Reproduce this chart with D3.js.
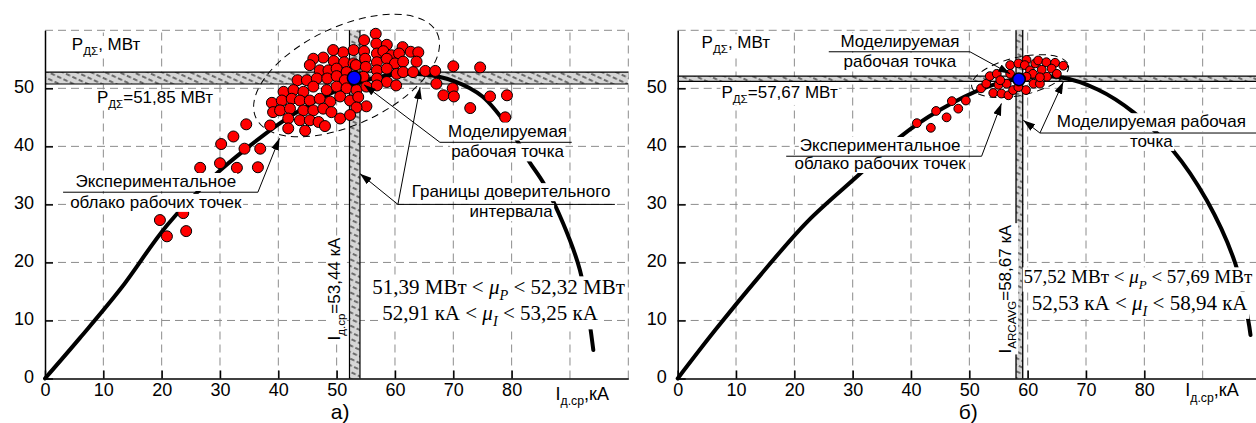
<!DOCTYPE html>
<html><head><meta charset="utf-8">
<script src="https://cdn.jsdelivr.net/npm/d3@7"></script>
<style>body{margin:0;background:#fff} svg{display:block}</style>
</head><body><svg id="c" width="1256" height="423"></svg>
<script>
// ---------------- DATA ----------------
const xTickValues = [0,10,20,30,40,50,60,70,80];
const yTickValues = [0,10,20,30,40,50];
const xGrid = [10,20,30,40,50,60,70,80,90,100];
const yGrid = [10,20,30,40,50,60];

// panel a): model P(I) characteristic [I kA, P MW]
const curveA = [[0,0],[6,7],[13,15.5],[21,26.5],[29.4,35.3],[35,40],[40,43.8],[45,47],[50,49.6],[55,51.4],[60,52.4],[65,52.4],[70,51.3],[75,48.6],[80,42.5],[83,37.4],[85.5,33.6],[88.8,26.8],[91.7,18.7],[93.3,10],[94,4.9]];
// experimental cloud a)
const cloudA = [
[19.7,27.3],[23.7,28.5],[20.9,24.5],[24.2,25.4],
[26.6,36.3],[30.0,37.1],[32.9,36.3],[36.5,36.4],
[30.2,40.4],[32.3,41.7],[34.2,39.6],[36.9,39.6],[34.5,43.8],[38.6,43.6],
[56.7,59.4],[54.7,58.3],[52.9,56.6],[54.7,56.4],[56.8,57.7],[58.6,57.5],[61.3,57.1],[51.1,56.2],[49.4,56.6],[56.9,56.0],[58.0,56.4],[59.4,55.7],[60.7,56.0],[62.7,56.3],[64.0,56.2],
[47.7,55.3],[46.0,55.1],[49.5,54.7],[51.3,54.5],[52.9,54.3],[54.9,55.1],[56.9,54.5],[58.6,55.1],[60.0,54.3],[61.4,54.6],[63.7,54.6],
[45.4,54.0],[47.1,53.1],[48.6,53.1],[50.0,53.4],[51.7,52.8],[53.3,54.0],[55.0,53.7],[56.9,53.1],[58.6,53.4],[60.3,52.5],[61.4,52.8],[63.1,52.8],[65.2,53.0],[66.9,53.0],[70.0,53.8],
[43.3,51.4],[44.9,51.4],[46.6,51.7],[48.4,51.7],[50.0,52.1],[51.4,51.4],[54.6,52.0],[56.9,51.7],[58.6,51.1],[60.2,50.5],[67.1,50.8],[69.9,50.0],[68.3,48.8],
[74.6,53.6],[70.1,48.6],[72.9,46.6],[76.3,48.6],[79.2,48.8],[78.9,45.0],
[40.9,49.4],[42.6,49.7],[44.3,49.4],[46.0,50.3],[48.3,49.7],[50.0,50.3],[51.7,50.0],[53.4,49.7],[55.1,50.3],[56.9,50.5],
[38.9,47.5],[40.6,47.9],[42.3,48.2],[43.7,47.9],[45.4,47.9],[47.1,48.2],[48.9,47.7],[50.6,48.6],[52.3,47.9],[53.7,48.5],[55.1,46.9],[53.4,46.7],
[39.1,45.9],[40.3,46.2],[42.0,46.5],[44.3,46.2],[46.0,46.2],[47.7,46.5],[49.1,45.9],[50.6,44.8],[52.3,45.4],
[41.7,44.8],[43.7,44.5],[45.4,44.5],[46.9,44.2],[48.0,43.5],[44.6,42.7],[41.7,43.1]
];
const workPointA = [53.0, 51.8];
const bandPA = [50.75, 52.8];
const bandIA = [52.2, 54.0];

// panel б)
const curveB = [[0,0],[6.4,8.3],[14,17.6],[22.2,27],[31.4,35.4],[38.1,41.6],[45,46.3],[52.4,50],[59,51.8],[65.6,51.9],[72,49.8],[78.1,45.9],[84.9,39.3],[90.7,30.7],[95.6,19.8],[97.8,10.1],[98.2,7.5]];
const cloudB = [
[41.0,44.0],[43.4,43.2],[44.3,46.1],[46.1,45.0],[47.0,47.8],[48.1,46.5],[49.4,47.9],
[52.0,50.0],[52.9,50.8],[53.5,52.1],[54.7,52.5],[54.1,49.2],[55.0,50.6],[55.5,49.1],[56.7,48.8],[56.4,50.8],[57.0,54.0],[57.5,49.7],[58.4,54.3],[59.8,54.9],[59.5,54.0],[59.7,49.7],[60.4,53.1],[61.3,54.3],[61.0,50.8],[62.1,50.8],[61.8,54.8],[63.2,54.5],[64.7,54.4],[66.1,53.9],[62.4,53.2],[64.1,53.4],[65.0,52.5],[60.9,52.5],[63.3,52.0],[62.1,51.9],[57.0,52.5],[59.8,52.0],[58.4,50.2],[55.3,51.4]
];
const workPointB = [58.5, 51.55];
const bandPB = [51.2, 52.1];
const bandIB = [58.0, 59.15];

// text
const labelPAxis = ["P", {t:"ДΣ", sub:1}, ", МВт"];
const labelIAxis = ["I", {t:"д.ср", sub:1}, ",кА"];
const labelPA = ["P", {t:"ДΣ", sub:1}, "=51,85 МВт"];
const labelIA = ["I", {t:"д.ср", sub:1}, "=53,44 кА"];
const labelPB = ["P", {t:"ДΣ", sub:1}, "=57,67 МВт"];
const labelIB = ["I", {t:"ARCAVG", sub:1}, "=58,67 кА"];
const formulaA1 = ["51,39 МВт < ", {t:"μ", it:1}, {t:"P", sub:1, it:1}, " < 52,32 МВт"];
const formulaA2 = ["52,91 кА < ", {t:"μ", it:1}, {t:"I", sub:1, it:1}, " < 53,25 кА"];
const formulaB1 = ["57,52 МВт < ", {t:"μ", it:1}, {t:"P", sub:1, it:1}, " < 57,69 МВт"];
const formulaB2 = ["52,53 кА < ", {t:"μ", it:1}, {t:"I", sub:1, it:1}, " < 58,94 кА"];

// ---------------- DRAWING ----------------
const SANS = "'Liberation Sans', Arial, sans-serif";
const SERIF = "'Liberation Serif', 'Times New Roman', serif";
const svg = d3.select('#c');
const defs = svg.append('defs');
defs.append('marker').attr('id','arr').attr('viewBox','0 0 12 8').attr('refX',12).attr('refY',4)
  .attr('markerWidth',12).attr('markerHeight',8).attr('markerUnits','userSpaceOnUse').attr('orient','auto')
  .append('path').attr('d','M0,0L12,4L0,8Z').attr('fill','#000');
const pat = defs.append('pattern').attr('id','hatch').attr('width',7).attr('height',6)
  .attr('patternUnits','userSpaceOnUse').attr('patternTransform','rotate(25)');
pat.append('rect').attr('width',7).attr('height',6).attr('fill','#d6d6d6');
pat.append('line').attr('x1',0).attr('y1',3).attr('x2',4.5).attr('y2',3).attr('stroke','#5a5a5a').attr('stroke-width',1.7);

function rich(g, x, y, parts, o = {}) {
  const size = o.size || 17;
  const tf = `translate(${x},${y})` + (o.rotate ? ` rotate(${o.rotate})` : '');
  const t = g.append('text').attr('transform', tf)
    .attr('text-anchor', o.anchor || 'start')
    .attr('font-family', o.family || SANS).attr('font-size', size).attr('fill', '#000');
  let cur = 0;
  parts.forEach(p => {
    const s = typeof p === 'string' ? {t: p} : p;
    const target = s.sub ? size * 0.28 : 0;
    const ts = t.append('tspan').text(s.t).attr('dy', target - cur);
    cur = target;
    if (s.sub) ts.attr('font-size', size * 0.68);
    if (s.it) ts.attr('font-style', 'italic');
  });
  if (o.bg) {
    const b = t.node().getBBox();
    g.insert('rect', () => t.node()).attr('transform', tf)
      .attr('x', b.x - 1).attr('y', b.y + 1).attr('width', b.width + 2).attr('height', b.height - 1)
      .attr('fill', '#fff');
  }
  return t;
}

const panels = [
  { left: 45, curve: curveA, cloud: cloudA, work: workPointA, bandP: bandPA, bandI: bandIA, r: 5.5, rw: 6.8, bandEdge: 1.2,
    ell: {c: [51.7, 52.2], rx: 100, ry: 49, rot: -25},
    texts: [
      {at:[4.6,56.6], parts: labelPAxis, bg:1},
      {at:[8.9,47.4], parts: labelPA, bg:1},
      {at:[19.0,33.0], parts:["Экспериментальное"], anchor:'middle', bg:1},
      {at:[19.0,29.4], parts:["облако рабочих точек"], anchor:'middle', bg:1},
      {at:[79.3,41.7], parts:["Моделируемая"], anchor:'middle', bg:1},
      {at:[79.3,38.1], parts:["рабочая точка"], anchor:'middle', bg:1},
      {at:[79.9,31.25], parts:["Границы доверительного"], anchor:'middle', bg:1},
      {at:[79.9,27.8], parts:["интервала"], anchor:'middle', bg:1},
      {at:[56.1,14.5], parts: formulaA1, family: SERIF, size: 21, bg:1},
      {at:[57.8,10.0], parts: formulaA2, family: SERIF, size: 21, bg:1},
      {at:[50.6,15.4], parts: labelIA, anchor:'middle', rotate:-90, bg:1},
      {at:[92.1,-3.7], parts: labelIAxis, anchor:'middle', size:18},
      {at:[50.6,-6.9], parts:["а)"], anchor:'middle', size:21}
    ],
    lines: [
      {f:[3.1,32.1], t:[36.5,32.1]}, {f:[36.5,32.1], t:[40.2,41.4], a:1},
      {f:[67.7,40.7], t:[90.3,40.7]}, {f:[67.7,40.7], t:[54.7,50.6], a:1},
      {f:[60.5,30.0], t:[97.7,30.0]}, {f:[60.5,30.0], t:[54.0,35.3], a:1}, {f:[60.5,30.0], t:[64.3,50.2], a:1}
    ]
  },
  { left: 677.7, curve: curveB, cloud: cloudB, work: workPointB, bandP: bandPB, bandI: bandIB, r: 4.4, rw: 6.3, bandEdge: 1.3,
    ell: {c: [58.7, 52.1], rx: 49.5, ry: 19, rot: -12.6},
    texts: [
      {at:[4.1,56.9], parts: labelPAxis, bg:1},
      {at:[7.5,48.3], parts: labelPB, bg:1},
      {at:[38.1,57.1], parts:["Моделируемая"], anchor:'middle', bg:1},
      {at:[38.1,53.7], parts:["рабочая точка"], anchor:'middle', bg:1},
      {at:[34.7,39.2], parts:["Экспериментальное"], anchor:'middle', bg:1},
      {at:[34.7,36.1], parts:["облако рабочих точек"], anchor:'middle', bg:1},
      {at:[81.2,43.3], parts:["Моделируемая рабочая"], anchor:'middle', bg:1},
      {at:[81.2,39.9], parts:["точка"], anchor:'middle', bg:1},
      {at:[59.3,16.4], parts: formulaB1, family: SERIF, size: 19, bg:1},
      {at:[60.7,11.8], parts: formulaB2, family: SERIF, size: 21, bg:1},
      {at:[57.2,15.4], parts: labelIB, anchor:'middle', rotate:-90, bg:1},
      {at:[91.6,-3.1], parts: labelIAxis, anchor:'middle', size:18},
      {at:[49.8,-6.9], parts:["б)"], anchor:'middle', size:21}
    ],
    lines: [
      {f:[25.9,56.3], t:[50.1,56.3]}, {f:[50.1,56.3], t:[57.0,52.5], a:1},
      {f:[18.6,38.3], t:[52.1,38.3]}, {f:[52.1,38.3], t:[55.5,47.4], a:1},
      {f:[62.1,42.3], t:[99.2,42.3]}, {f:[62.1,42.3], t:[59.25,44.5], a:1}, {f:[62.1,42.3], t:[66.1,51.1], a:1}
    ]
  }
];

function drawPanel(p) {
  const x = d3.scaleLinear([0, 100], [p.left, p.left + 583.3]);
  const y = d3.scaleLinear([0, 60], [378.5, 30.3]);
  const g = svg.append('g');

  // grid
  const grid = g.append('g').attr('stroke', '#8c8c8c').attr('stroke-width', 1).attr('stroke-dasharray', '8,5');
  grid.selectAll('.v').data(xGrid).join('line').attr('class','v')
    .attr('x1', d => x(d)).attr('x2', d => x(d)).attr('y1', y(0)).attr('y2', y(60));
  grid.selectAll('.h').data(yGrid).join('line').attr('class','h')
    .attr('x1', x(0)).attr('x2', x(100)).attr('y1', d => y(d)).attr('y2', d => y(d));

  // confidence bands
  const bands = g.append('g');
  bands.append('rect').attr('x', x(0)).attr('width', x(100) - x(0))
    .attr('y', y(p.bandP[1])).attr('height', y(p.bandP[0]) - y(p.bandP[1])).attr('fill', 'url(#hatch)');
  bands.append('rect').attr('x', x(p.bandI[0])).attr('width', x(p.bandI[1]) - x(p.bandI[0]))
    .attr('y', y(60)).attr('height', y(0) - y(60)).attr('fill', 'url(#hatch)');
  const edge = bands.append('g').attr('stroke', '#000').attr('stroke-width', p.bandEdge);
  p.bandP.forEach(v => edge.append('line').attr('x1', x(0)).attr('x2', x(100)).attr('y1', y(v)).attr('y2', y(v)));
  p.bandI.forEach(v => edge.append('line').attr('y1', y(0)).attr('y2', y(60)).attr('x1', x(v)).attr('x2', x(v)));

  // axes
  const xa = g.append('g').attr('transform', `translate(0,${y(0)})`)
    .call(d3.axisBottom(x).tickValues(xTickValues).tickSizeInner(-8).tickSizeOuter(0).tickPadding(5));
  const ya = g.append('g').attr('transform', `translate(${x(0)},0)`)
    .call(d3.axisLeft(y).tickValues(yTickValues).tickSizeInner(-8).tickSizeOuter(0).tickPadding(11));
  [xa, ya].forEach(a => {
    a.attr('font-family', SANS).attr('font-size', 18);
    a.select('.domain').attr('stroke', '#000').attr('stroke-width', 1.5);
    a.selectAll('.tick line').attr('stroke', '#000').attr('stroke-width', 1.5);
    a.selectAll('.tick text').attr('fill', '#000');
  });
  ya.selectAll('.tick text').attr('dy', '0.22em');

  // model curve
  g.append('path').datum(p.curve)
    .attr('d', d3.line().x(d => x(d[0])).y(d => y(d[1])).curve(d3.curveCatmullRom))
    .attr('fill', 'none').attr('stroke', '#000').attr('stroke-width', 4).attr('stroke-linecap', 'round');

  // dashed ellipse
  g.append('ellipse').attr('transform', `translate(${x(p.ell.c[0])},${y(p.ell.c[1])}) rotate(${p.ell.rot})`)
    .attr('rx', p.ell.rx).attr('ry', p.ell.ry)
    .attr('fill', 'none').attr('stroke', '#000').attr('stroke-width', 1).attr('stroke-dasharray', '7,5');

  // cloud
  g.append('g').selectAll('circle').data(p.cloud).join('circle')
    .attr('cx', d => x(d[0])).attr('cy', d => y(d[1])).attr('r', p.r)
    .attr('fill', '#ff0000').attr('stroke', '#000').attr('stroke-width', 1);
  g.append('circle').attr('cx', x(p.work[0])).attr('cy', y(p.work[1])).attr('r', p.rw)
    .attr('fill', '#0000ff').attr('stroke', '#000').attr('stroke-width', 1.5);

  // annotations
  const ann = g.append('g');
  p.texts.forEach(t => rich(ann, x(t.at[0]), y(t.at[1]), t.parts,
    {anchor: t.anchor, size: t.size, family: t.family, rotate: t.rotate, bg: t.bg}));
  p.lines.forEach(l => {
    const ln = ann.append('line').attr('x1', x(l.f[0])).attr('y1', y(l.f[1]))
      .attr('x2', x(l.t[0])).attr('y2', y(l.t[1])).attr('stroke', '#000').attr('stroke-width', 1);
    if (l.a) ln.attr('marker-end', 'url(#arr)');
  });
}
panels.forEach(drawPanel);
</script>
</body></html>
